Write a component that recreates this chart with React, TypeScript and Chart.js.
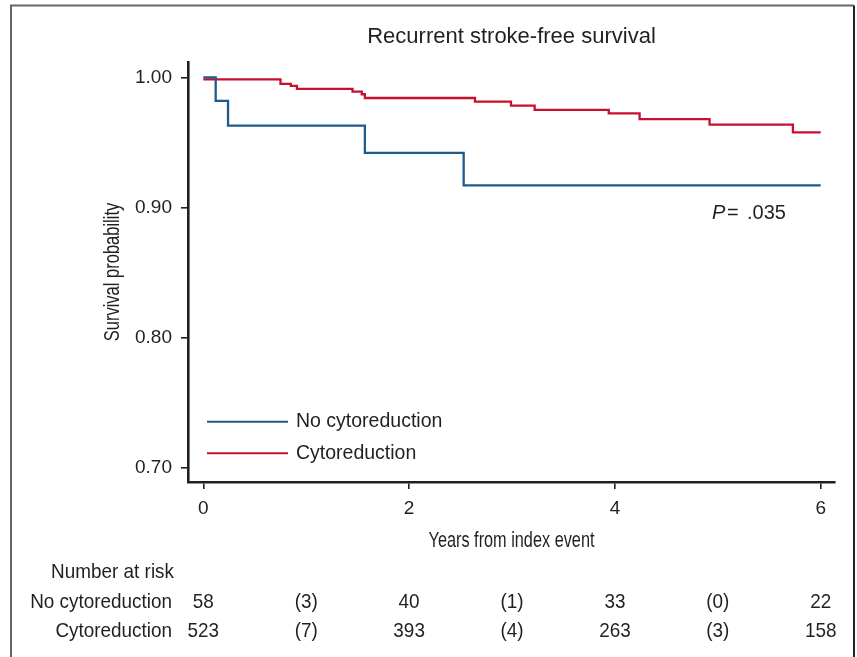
import React, { useEffect, useRef } from "react";
import { Chart, registerables } from "chart.js";

Chart.register(...registerables);

// ---- data ----
const seriesNames = ["No cytoreduction", "Cytoreduction"];
const noCytoTimes = [0, 0.12, 0.24, 1.57, 2.53, 6.0];
const noCytoSurv = [1.0, 0.982, 0.963, 0.942, 0.917, 0.917];
const cytoTimes = [0, 0.75, 0.85, 0.91, 1.45, 1.54, 1.57, 2.64, 2.99, 3.22, 3.94, 4.24, 4.92, 5.73, 6.0];
const cytoSurv = [0.9986, 0.995, 0.9935, 0.9912, 0.9891, 0.9871, 0.9842, 0.9814, 0.9783, 0.975, 0.9724, 0.968, 0.9637, 0.9578, 0.9578];
const xTickValues = [0, 2, 4, 6];
const yTickValues = [0.7, 0.8, 0.9, 1.0];
const riskTimes = [0, 1, 2, 3, 4, 5, 6];
const noCytoRisk = ["58", "(3)", "40", "(1)", "33", "(0)", "22"];
const cytoRisk = ["523", "(7)", "393", "(4)", "263", "(3)", "158"];
const riskHeader = "Number at risk";
const pValueText = ".035";
const titleText = "Recurrent stroke-free survival";
const xTitle = "Years from index event";
const yTitle = "Survival probability";

const REG = '"Liberation Sans", Arial, Helvetica, sans-serif';
const INK = "#231f20";
const BLUE = "#1f5a8c";
const RED = "#c8102e";

// draw horizontally condensed text (narrow Helvetica look)
function narrowText(ctx: any, text: string, x: number, y: number, size: number, squeeze: number, align: string) {
  ctx.save();
  ctx.font = `${size}px ${REG}`;
  ctx.textBaseline = "middle";
  ctx.textAlign = align;
  ctx.translate(x, y);
  ctx.scale(squeeze, 1);
  ctx.fillText(text, 0, 0);
  ctx.restore();
}

const decorPlugin = {
  id: "decor",
  beforeDraw(chart: any) {
    const ctx = chart.ctx;
    ctx.save();
    ctx.lineWidth = 2;
    ctx.strokeStyle = "#666666";
    ctx.beginPath();
    ctx.moveTo(11, 657);
    ctx.lineTo(11, 5.5);
    ctx.lineTo(854, 5.5);
    ctx.stroke();
    ctx.strokeStyle = "#222222";
    ctx.beginPath();
    ctx.moveTo(854, 5.5);
    ctx.lineTo(854, 657);
    ctx.stroke();
    ctx.restore();
  },
  afterDraw(chart: any) {
    const ctx = chart.ctx;
    const area = chart.chartArea;
    const xs = chart.scales.x;
    ctx.save();
    ctx.fillStyle = INK;
    // axis titles
    narrowText(ctx, xTitle, (area.left + area.right) / 2, 541, 22, 0.74, "center");
    ctx.save();
    ctx.translate(113, (area.top + area.bottom) / 2);
    ctx.rotate(-Math.PI / 2);
    narrowText(ctx, yTitle, 0, 0, 22, 0.75, "center");
    ctx.restore();
    // legend
    const colors = [BLUE, RED];
    const legendY = [421.7, 453.3];
    seriesNames.forEach((name, i) => {
      ctx.strokeStyle = colors[i];
      ctx.lineWidth = 2;
      ctx.beginPath();
      ctx.moveTo(area.left + 19, legendY[i]);
      ctx.lineTo(area.left + 100, legendY[i]);
      ctx.stroke();
      ctx.fillStyle = INK;
      ctx.font = `19.5px ${REG}`;
      ctx.textAlign = "left";
      ctx.textBaseline = "middle";
      ctx.fillText(name, area.left + 108, legendY[i]);
    });
    // p value
    ctx.fillStyle = INK;
    ctx.textBaseline = "middle";
    ctx.textAlign = "left";
    ctx.font = `italic 20px ${REG}`;
    ctx.fillText("P", 712, 213);
    ctx.font = `20px ${REG}`;
    ctx.fillText("=", 727, 213);
    ctx.fillText(pValueText, 747, 213);
    // number at risk table
    narrowText(ctx, riskHeader, 174, 572, 21, 0.9, "right");
    narrowText(ctx, seriesNames[0], 172, 602, 21, 0.9, "right");
    narrowText(ctx, seriesNames[1], 172, 631, 21, 0.9, "right");
    riskTimes.forEach((t, i) => {
      const x = xs.getPixelForValue(t);
      narrowText(ctx, noCytoRisk[i], x, 602, 21, 0.9, "center");
      narrowText(ctx, cytoRisk[i], x, 631, 21, 0.9, "center");
    });
    ctx.restore();
  },
};

export default function App() {
  const ref = useRef<HTMLCanvasElement | null>(null);
  useEffect(() => {
    document.body.style.margin = "0";
    const canvas = ref.current;
    if (!canvas) return;
    const chart = new Chart(canvas, {
      type: "line",
      data: {
        datasets: [
          {
            label: seriesNames[0],
            data: noCytoTimes.map((t, i) => ({ x: t, y: noCytoSurv[i] })),
            borderColor: BLUE,
            borderWidth: 2.3,
            pointRadius: 0,
            stepped: "before",
            fill: false,
          },
          {
            label: seriesNames[1],
            data: cytoTimes.map((t, i) => ({ x: t, y: cytoSurv[i] })),
            borderColor: RED,
            borderWidth: 2.3,
            pointRadius: 0,
            stepped: "before",
            fill: false,
          },
        ],
      },
      options: {
        animation: false,
        responsive: false,
        devicePixelRatio: 1,
        layout: { padding: { left: 90, right: 22, top: 0, bottom: 95 } },
        plugins: {
          legend: { display: false },
          tooltip: { enabled: false },
          title: {
            display: true,
            text: titleText,
            fullSize: false,
            color: INK,
            font: { family: REG, size: 22, weight: "normal" },
            padding: { top: 23.8, bottom: 11.8 },
          },
        },
        scales: {
          x: {
            type: "linear",
            min: -0.149,
            max: 6.139,
            afterBuildTicks: (s: any) => {
              s.ticks = xTickValues.map((v) => ({ value: v }));
            },
            afterFit: (s: any) => {
              s.height = 80;
            },
            ticks: {
              color: INK,
              font: { family: REG, size: 19 },
              padding: 8,
              maxRotation: 0,
              callback: (v: any) => String(v),
            },
            grid: { drawOnChartArea: false, drawTicks: true, tickLength: 7, color: INK, lineWidth: 1.6 },
            border: { display: true, color: INK, width: 2.6 },
            title: { display: false },
          },
          y: {
            type: "linear",
            min: 0.6887,
            max: 1.0119,
            afterBuildTicks: (s: any) => {
              s.ticks = yTickValues.map((v) => ({ value: v }));
            },
            afterFit: (s: any) => {
              s.width = 98;
            },
            ticks: {
              color: INK,
              font: { family: REG, size: 19 },
              padding: 9,
              callback: (v: any) => Number(v).toFixed(2),
            },
            grid: { drawOnChartArea: false, drawTicks: true, tickLength: 7, color: INK, lineWidth: 1.6 },
            border: { display: true, color: INK, width: 2.6 },
            title: { display: false },
          },
        },
      },
      plugins: [decorPlugin],
    } as any);
    return () => chart.destroy();
  }, []);
  return (
    <div style={{ width: 857, height: 657, background: "#fff" }}>
      <canvas ref={ref} width={857} height={657} style={{ display: "block" }} />
    </div>
  );
}
